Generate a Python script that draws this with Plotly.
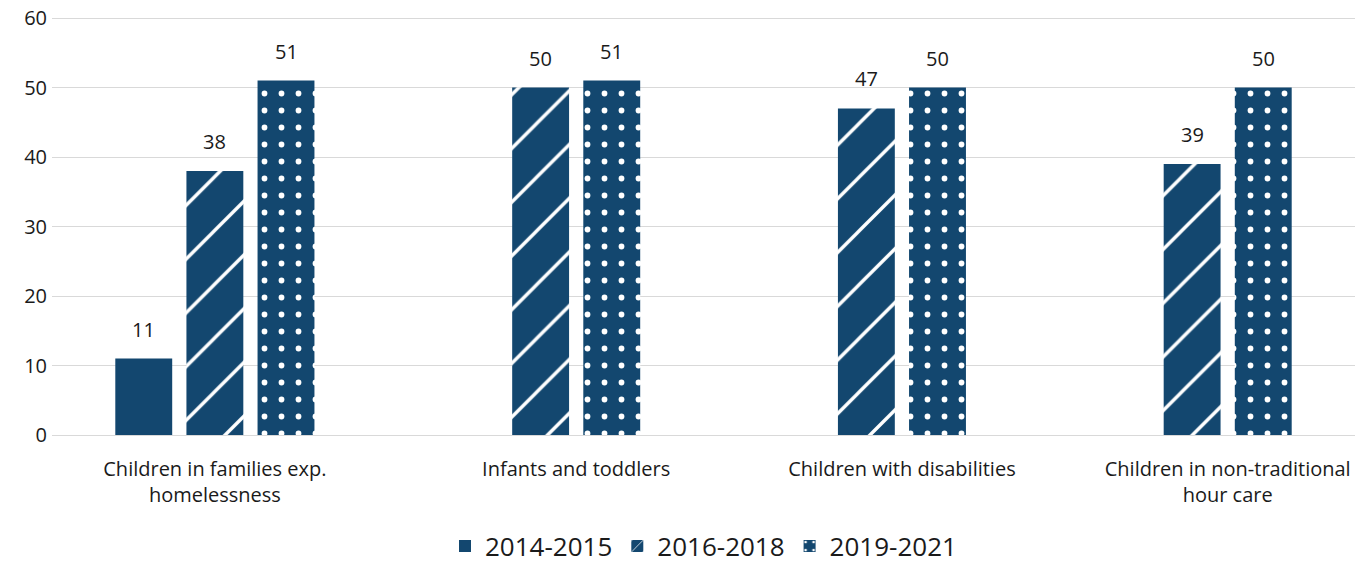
import plotly.graph_objects as go

categories = ["Children in families exp.<br>homelessness", "Infants and toddlers",
              "Children with disabilities", "Children in non-traditional<br>hour care"]
series_names = ["2014-2015", "2016-2018", "2019-2021"]
values_2014_2015 = [11, None, None, None]
values_2016_2018 = [38, 50, 47, 39]
values_2019_2021 = [51, 51, 50, 50]
series_values = [values_2014_2015, values_2016_2018, values_2019_2021]
y_ticks = [0, 10, 20, 30, 40, 50, 60]

BAR_COLOR = "#13476F"
TEXT_COLOR = "#1a1a1a"
FONT = "Open Sans"
bargap = 0.345
bargroupgap = 0.2
patterns = [None,
            dict(shape="/", fgcolor="white", fgopacity=1, size=38, solidity=0.09),
            dict(shape=".", fgcolor="white", fgopacity=1, size=17, solidity=0.09)]

xs = list(range(len(categories)))
n = len(series_names)
slot = (1 - bargap) / n
offsets = [(j - (n - 1) / 2) * slot for j in range(n)]

fig = go.Figure()
annotations = []
for j, (name, vals, pat) in enumerate(zip(series_names, series_values, patterns)):
    marker = dict(color=BAR_COLOR, line=dict(width=0))
    if pat:
        marker["pattern"] = pat
    fig.add_trace(go.Bar(x=xs, y=vals, name=name, marker=marker))
    for i, v in zip(xs, vals):
        if v is None:
            continue
        annotations.append(dict(x=i + offsets[j], y=v, xref="x", yref="y",
                                text=str(v), showarrow=False, yanchor="bottom",
                                yshift=14, font=dict(size=20, family=FONT, color=TEXT_COLOR)))

# tick label at centre of the bars actually present in each category
tickvals = []
for i in xs:
    offs = [offsets[j] for j, vals in enumerate(series_values) if vals[i] is not None]
    tickvals.append(i + sum(offs) / len(offs))

fig.update_layout(
    width=1370, height=564,
    margin=dict(l=52, r=15, t=17, b=129, autoexpand=False),
    barmode="group", bargap=bargap, bargroupgap=bargroupgap,
    plot_bgcolor="white", paper_bgcolor="white",
    font=dict(family=FONT, size=20, color=TEXT_COLOR),
    showlegend=True,
    annotations=annotations,
    legend=dict(orientation="h", x=0.5, xanchor="center", y=-0.266, yanchor="middle",
                font=dict(size=26, family=FONT, color=TEXT_COLOR), itemwidth=30,
                traceorder="normal"),
    xaxis=dict(range=[-0.5, len(categories) - 0.5], tickmode="array", automargin=False,
               tickvals=tickvals, ticktext=categories, showgrid=False,
               showline=False, zeroline=False, ticks="", ticklabelstandoff=20,
               tickfont=dict(size=20, family=FONT, color=TEXT_COLOR)),
    yaxis=dict(range=[0, 60.15], tickmode="array", tickvals=y_ticks, automargin=False,
               showgrid=True, gridcolor="#d9d9d9", gridwidth=1,
               zeroline=True, zerolinecolor="#d9d9d9", zerolinewidth=1,
               showline=False, ticks="", ticklabelstandoff=4, ticklabeloverflow="allow",
               tickfont=dict(size=20, family=FONT, color=TEXT_COLOR)),
)

fig.write_html("out.html", config={"displayModeBar": False},
               post_script="document.body.style.margin='0';")
